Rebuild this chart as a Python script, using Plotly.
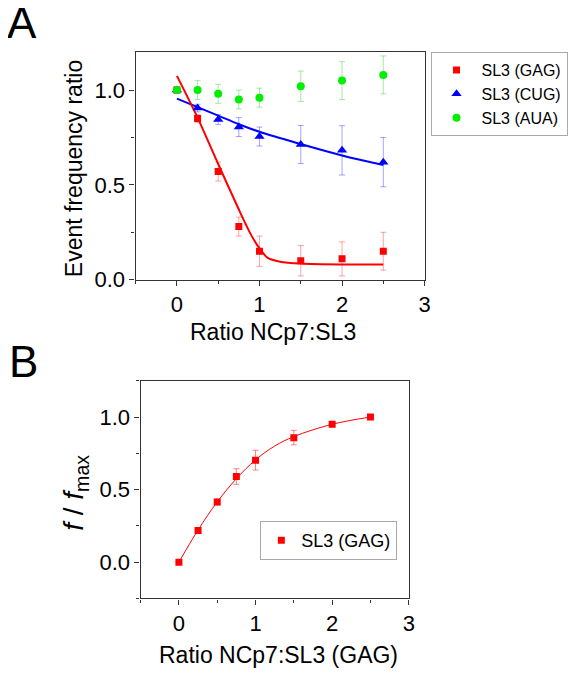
import plotly.graph_objects as go

# ---------------- Data: panel A ----------------
ratio = [0, 0.25, 0.5, 0.75, 1.0, 1.5, 2.0, 2.5]
gag_vals = [1.0, 0.85, 0.57, 0.28, 0.15, 0.10, 0.11, 0.15]
gag_err = [0.01, 0.02, 0.05, 0.05, 0.08, 0.08, 0.09, 0.10]
cug_vals = [1.0, 0.905, 0.845, 0.805, 0.755, 0.713, 0.682, 0.62]
cug_err = [0.015, 0.02, 0.026, 0.05, 0.05, 0.10, 0.13, 0.13]
aua_vals = [1.0, 1.0, 0.98, 0.95, 0.96, 1.02, 1.05, 1.08]
aua_err = [0.01, 0.05, 0.05, 0.05, 0.05, 0.08, 0.10, 0.10]

gag_fit_x = [0, 0.25, 0.5, 0.75, 0.9, 1.0, 1.1, 1.25, 1.5, 2.0, 2.5]
gag_fit_y = [1.075, 0.855, 0.61, 0.37, 0.235, 0.165, 0.115, 0.095, 0.085, 0.08, 0.08]
cug_fit_x = [0, 0.25, 0.5, 0.75, 1.0, 1.5, 2.0, 2.5]
cug_fit_y = [0.955, 0.91, 0.865, 0.82, 0.78, 0.715, 0.655, 0.605]

# ---------------- Data: panel B ----------------
ratio_b = [0, 0.25, 0.5, 0.75, 1.0, 1.5, 2.0, 2.5]
fnorm_vals = [0.0, 0.218, 0.414, 0.59, 0.703, 0.858, 0.95, 1.0]
fnorm_err = [0.005, 0.01, 0.02, 0.054, 0.068, 0.05, 0.015, 0.005]
fnorm_fit_x = [0, 0.25, 0.5, 0.75, 1.0, 1.25, 1.5, 2.0, 2.5]
fnorm_fit_y = [0.0, 0.222, 0.415, 0.575, 0.705, 0.80, 0.865, 0.95, 1.0]

x_ticks = [0, 1, 2, 3]
y_ticks = [0.0, 0.5, 1.0]

RED = "#ff0000"
BLUE = "#0000ff"
GREEN = "#00ee00"
FONT = "Liberation Sans, Arial, sans-serif"

# page has an 8px body margin; figure drawn in the remaining area
OFF = 8
FW, FH = 581 - OFF, 687 - OFF


def fx(px):
    return (px - OFF) / FW


def fy(py):
    return 1 - (py - OFF) / FH


fig = go.Figure()

fig.add_trace(go.Scatter(x=cug_fit_x, y=cug_fit_y, mode="lines", line=dict(color=BLUE, width=2, shape="spline"),
                         showlegend=False, xaxis="x", yaxis="y"))
fig.add_trace(go.Scatter(x=gag_fit_x, y=gag_fit_y, mode="lines",
                         line=dict(color=RED, width=2, shape="spline", smoothing=0.8),
                         showlegend=False, xaxis="x", yaxis="y"))


def err(arr, color):
    return dict(type="data", array=arr, visible=True, color=color, thickness=0.8, width=3)


fig.add_trace(go.Scatter(x=ratio, y=gag_vals, mode="markers", name="SL3 (GAG)",
                         marker=dict(symbol="square", size=7, color=RED),
                         error_y=err(gag_err, "rgba(255,0,0,0.45)"), xaxis="x", yaxis="y", legend="legend"))
fig.add_trace(go.Scatter(x=ratio, y=cug_vals, mode="markers", name="SL3 (CUG)",
                         marker=dict(symbol="triangle-up", size=9, color=BLUE),
                         error_y=err(cug_err, "rgba(0,0,255,0.45)"), xaxis="x", yaxis="y", legend="legend"))
fig.add_trace(go.Scatter(x=ratio, y=aua_vals, mode="markers", name="SL3 (AUA)",
                         marker=dict(symbol="circle", size=8, color=GREEN),
                         error_y=err(aua_err, "rgba(0,200,0,0.45)"), xaxis="x", yaxis="y", legend="legend"))

fig.add_trace(go.Scatter(x=fnorm_fit_x, y=fnorm_fit_y, mode="lines", line=dict(color=RED, width=1, shape="spline"),
                         showlegend=False, xaxis="x2", yaxis="y2"))
fig.add_trace(go.Scatter(x=ratio_b, y=fnorm_vals, mode="markers", name="SL3 (GAG)",
                         marker=dict(symbol="square", size=7, color=RED),
                         error_y=err(fnorm_err, "rgba(255,0,0,0.6)"), xaxis="x2", yaxis="y2", legend="legend2"))

axis_common = dict(showline=True, linecolor="#333", linewidth=1.3, mirror=True, ticks="outside",
                   ticklen=5, tickwidth=1, tickcolor="#333", showgrid=False, zeroline=False,
                   tickfont=dict(family=FONT, size=22, color="black"))

fig.update_layout(
    width=FW, height=FH, margin=dict(l=0, r=0, t=0, b=0),
    paper_bgcolor="white", plot_bgcolor="white",
    xaxis=dict(domain=[fx(137), fx(429)], range=[-0.5, 3], tickvals=x_ticks, anchor="y",
               minor=dict(ticks="outside", ticklen=3, dtick=0.5, tick0=0, tickcolor="#333"), **axis_common),
    yaxis=dict(domain=[fy(285), fy(53)], range=[0, 1.2], tickvals=y_ticks, tickformat=".1f", anchor="x",
               minor=dict(ticks="outside", ticklen=3, dtick=0.25, tick0=0, tickcolor="#333"), **axis_common),
    xaxis2=dict(domain=[fx(142), fx(413)], range=[-0.5, 3], tickvals=x_ticks, anchor="y2",
                minor=dict(ticks="outside", ticklen=3, dtick=0.5, tick0=0, tickcolor="#333"), **axis_common),
    yaxis2=dict(domain=[fy(610), fy(388)], range=[-0.25, 1.25], tickvals=y_ticks, tickformat=".1f", anchor="x2",
                minor=dict(ticks="outside", ticklen=3, dtick=0.25, tick0=0, tickcolor="#333"), **axis_common),
    legend=dict(x=fx(435), y=fy(53), xanchor="left", yanchor="top", bordercolor="#aaa", borderwidth=1,
                bgcolor="white", font=dict(family=FONT, size=16, color="black"), itemwidth=40,
                tracegroupgap=0),
    legend2=dict(x=fx(263), y=fy(531), xanchor="left", yanchor="top", bordercolor="#aaa", borderwidth=1,
                 bgcolor="white", font=dict(family=FONT, size=18, color="black"), itemwidth=30),
)

ann = []


def add_text(text, px, py, size, angle=0):
    ann.append(dict(text=text, x=fx(px), y=fy(py), xref="paper", yref="paper", showarrow=False,
                    xanchor="center", yanchor="middle", textangle=angle,
                    font=dict(family=FONT, size=size, color="black")))


add_text("A", 22, 23, 44)
add_text("B", 24, 368, 44)
add_text("Ratio NCp7:SL3", 276, 338, 23)
add_text("Event frequency ratio", 75, 172, 23, -90)
add_text("Ratio NCp7:SL3 (GAG)", 281, 668, 23)
add_text("<i>f</i> / <i>f</i><sub>max</sub>", 76, 502, 28, -90)
fig.update_layout(annotations=ann)

fig.write_html("out.html")
